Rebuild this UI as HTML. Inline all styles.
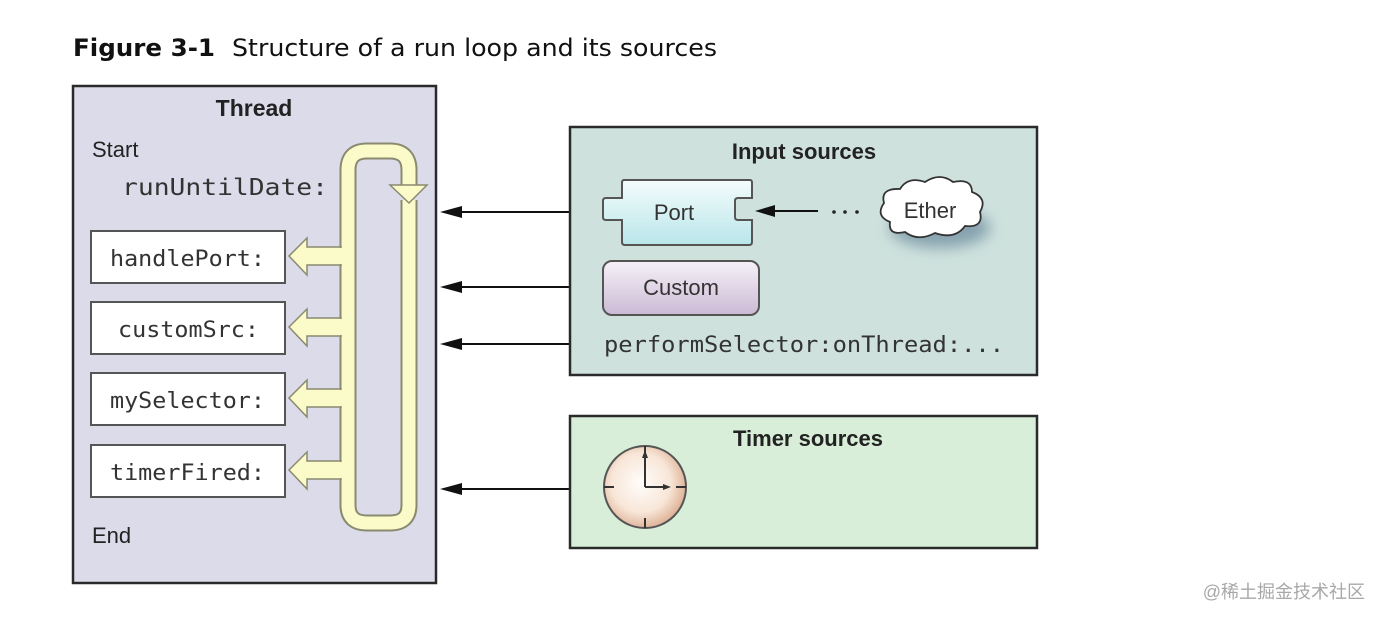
<!DOCTYPE html>
<html><head><meta charset="utf-8"><style>
html,body{margin:0;padding:0;background:#fff;width:1382px;height:620px;overflow:hidden}
svg{display:block}
</style></head><body>
<svg width="1382" height="620" viewBox="0 0 1382 620" xmlns="http://www.w3.org/2000/svg">
<defs>
<linearGradient id="pg" x1="0" y1="0" x2="0" y2="1"><stop offset="0" stop-color="#f4fcfc"/><stop offset="1" stop-color="#b9e6ea"/></linearGradient>
<linearGradient id="cg" x1="0" y1="0" x2="0" y2="1"><stop offset="0" stop-color="#f6f2f8"/><stop offset="1" stop-color="#cbb9d4"/></linearGradient>
<radialGradient id="kg" cx="0.45" cy="0.45" r="0.6"><stop offset="0" stop-color="#fffdfb"/><stop offset="0.6" stop-color="#f8e6d8"/><stop offset="1" stop-color="#d9a88a"/></radialGradient>
<filter id="sh" x="-30%" y="-30%" width="170%" height="190%"><feGaussianBlur stdDeviation="7"/></filter>
</defs>
<text x="73" y="56" font-family="'DejaVu Sans','Liberation Sans',sans-serif" font-size="24" fill="#111"><tspan font-weight="bold" textLength="142" lengthAdjust="spacingAndGlyphs">Figure 3-1</tspan><tspan x="232" textLength="485" lengthAdjust="spacingAndGlyphs">Structure of a run loop and its sources</tspan></text>

<rect x="73" y="86" width="363" height="497" fill="#dcdbea" stroke="#2a2a2a" stroke-width="2.5"/>
<text x="254" y="116" text-anchor="middle" font-family="'Liberation Sans',sans-serif" font-weight="bold" font-size="23" fill="#222">Thread</text>
<text x="92" y="157" font-family="'Liberation Sans',sans-serif" font-size="22" fill="#222">Start</text>
<text x="122" y="195" font-family="'DejaVu Sans Mono','Liberation Mono',monospace" font-size="23" fill="#333" textLength="206" lengthAdjust="spacingAndGlyphs">runUntilDate:</text>
<text x="92" y="543" font-family="'Liberation Sans',sans-serif" font-size="22" fill="#222">End</text>

<g font-family="'DejaVu Sans Mono','Liberation Mono',monospace" font-size="22" fill="#333">
<rect x="91" y="231" width="194" height="52" fill="#fff" stroke="#555" stroke-width="2"/>
<text x="110" y="266" textLength="155" lengthAdjust="spacingAndGlyphs">handlePort:</text>
<rect x="91" y="302" width="194" height="52" fill="#fff" stroke="#555" stroke-width="2"/>
<text x="118" y="337" textLength="141" lengthAdjust="spacingAndGlyphs">customSrc:</text>
<rect x="91" y="373" width="194" height="52" fill="#fff" stroke="#555" stroke-width="2"/>
<text x="110" y="408" textLength="155" lengthAdjust="spacingAndGlyphs">mySelector:</text>
<rect x="91" y="445" width="194" height="52" fill="#fff" stroke="#555" stroke-width="2"/>
<text x="110" y="480" textLength="155" lengthAdjust="spacingAndGlyphs">timerFired:</text>
</g>

<g fill="none" stroke-linejoin="round">
<path d="M409 190 V170 Q409 151 390 151 H367 Q348 151 348 170 V505 Q348 523 367 523 H390 Q409 523 409 505 V200" stroke="#8a8a70" stroke-width="17"/>
<path d="M409 190 V170 Q409 151 390 151 H367 Q348 151 348 170 V505 Q348 523 367 523 H390 Q409 523 409 505 V200" stroke="#fbfbc9" stroke-width="13"/>
</g>
<g fill="#fbfbc9" stroke="#8a8a70" stroke-width="1.5">
<polygon points="390,185 427,185 409,203"/>
<polygon points="341,247 307,247 307,238 289,256 307,275 307,265 341,265"/>
<polygon points="341,318 307,318 307,309 289,327 307,346 307,336 341,336"/>
<polygon points="341,389 307,389 307,380 289,398 307,417 307,407 341,407"/>
<polygon points="341,461 307,461 307,452 289,470 307,489 307,479 341,479"/>
</g>
<g fill="#fbfbc9"><rect x="338" y="248" width="12" height="16"/><rect x="338" y="319" width="12" height="16"/><rect x="338" y="390" width="12" height="16"/><rect x="338" y="462" width="12" height="16"/></g>

<g stroke="#111" stroke-width="2">
<line x1="450" y1="212" x2="570" y2="212"/><line x1="450" y1="287" x2="570" y2="287"/>
<line x1="450" y1="344" x2="570" y2="344"/><line x1="450" y1="489" x2="570" y2="489"/>
</g>
<g fill="#111">
<polygon points="440,212 462,206 462,218"/><polygon points="440,287 462,281 462,293"/>
<polygon points="440,344 462,338 462,350"/><polygon points="440,489 462,483 462,495"/>
</g>

<rect x="570" y="127" width="467" height="248" fill="#cee1dd" stroke="#2a2a2a" stroke-width="2.5"/>
<text x="804" y="159" text-anchor="middle" font-family="'Liberation Sans',sans-serif" font-weight="bold" font-size="22" fill="#222">Input sources</text>
<path d="M624 180 H750 Q752 180 752 183 V198 H738 Q735 198 735 201 V217 Q735 220 738 220 H752 V242 Q752 245 749 245 H625 Q622 245 622 242 V220 H606 Q603 220 603 217 V201 Q603 198 606 198 H622 V183 Q622 180 624 180 Z" fill="url(#pg)" stroke="#555" stroke-width="2"/>
<text x="674" y="220" text-anchor="middle" font-family="'Liberation Sans',sans-serif" font-size="22" fill="#333">Port</text>
<line x1="768" y1="211" x2="818" y2="211" stroke="#111" stroke-width="2"/>
<polygon points="755,211 775,205 775,217" fill="#111"/>
<g fill="#222"><circle cx="834" cy="212" r="1.8"/><circle cx="845" cy="212" r="1.8"/><circle cx="857" cy="212" r="1.8"/></g>
<ellipse cx="940" cy="228" rx="50" ry="20" fill="#4d6f8a" opacity="0.55" filter="url(#sh)"/>
<path d="M890 222 Q875 216 884 203 Q880 188 900 189 Q908 176 925 182 Q940 172 953 182 Q972 178 972 192 Q988 198 980 212 Q984 228 965 226 Q955 240 935 233 Q918 242 905 232 Q888 236 890 222 Z" fill="#fff" stroke="#333" stroke-width="1.8"/>
<text x="930" y="218" text-anchor="middle" font-family="'Liberation Sans',sans-serif" font-size="22" fill="#333">Ether</text>
<rect x="603" y="261" width="156" height="54" rx="9" fill="url(#cg)" stroke="#555" stroke-width="2"/>
<text x="681" y="295" text-anchor="middle" font-family="'Liberation Sans',sans-serif" font-size="22" fill="#333">Custom</text>
<text x="604" y="352" font-family="'DejaVu Sans Mono','Liberation Mono',monospace" font-size="22" fill="#333" textLength="400" lengthAdjust="spacingAndGlyphs">performSelector:onThread:...</text>

<rect x="570" y="416" width="467" height="132" fill="#d8eed9" stroke="#2a2a2a" stroke-width="2.5"/>
<text x="808" y="446" text-anchor="middle" font-family="'Liberation Sans',sans-serif" font-weight="bold" font-size="22" fill="#222">Timer sources</text>
<circle cx="645" cy="487" r="41" fill="url(#kg)" stroke="#555" stroke-width="2"/>
<g stroke="#333" stroke-width="2">
<line x1="645" y1="446" x2="645" y2="456"/><line x1="645" y1="518" x2="645" y2="528"/>
<line x1="604" y1="487" x2="614" y2="487"/><line x1="676" y1="487" x2="686" y2="487"/>
<line x1="645" y1="487" x2="645" y2="455"/><line x1="645" y1="487" x2="666" y2="487"/>
</g>
<polygon points="645,450 642,458 648,458" fill="#333"/><polygon points="671,487 663,484 663,490" fill="#333"/>

<text x="1365" y="598" text-anchor="end" font-family="'Liberation Sans','Noto Sans CJK SC',sans-serif" font-size="18" fill="#a8a8a8">@稀土掘金技术社区</text>
</svg>
</body></html>
